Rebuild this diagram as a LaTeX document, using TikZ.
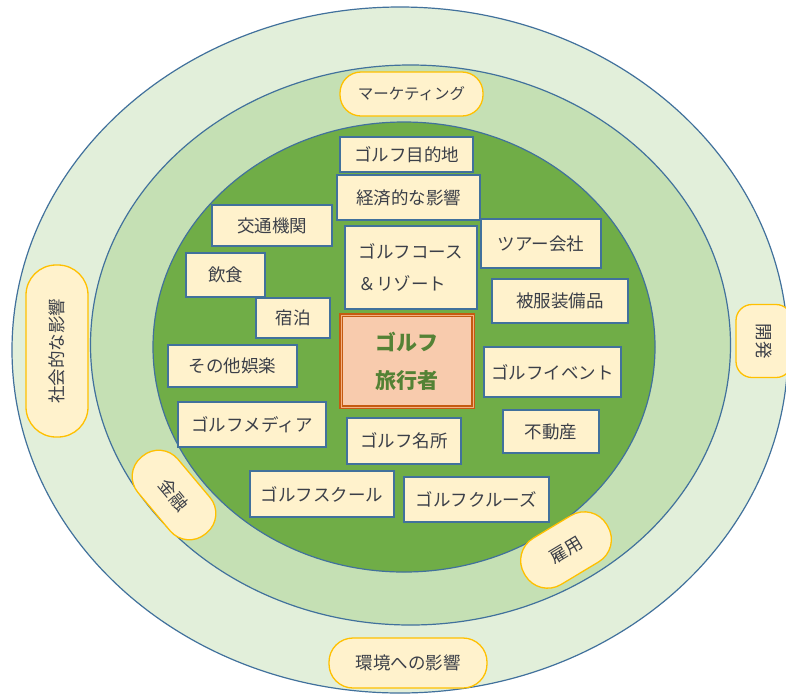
\documentclass[tikz,border=0pt]{standalone}
\usepackage{fontspec}
\setmainfont{Noto Sans CJK JP}
\newfontfamily\jp{Noto Sans CJK JP}
\begin{document}
\begin{tikzpicture}[x=1pt,y=-1pt,
  ringline/.style={draw=ringblue,line width=1.2pt},
  box/.style={draw=boxblue,line width=1.2pt,fill=cream,inner sep=0pt,
    font=\jp\fontsize{17.5}{21}\selectfont,text=txtgray},
  pill/.style={draw=gold,line width=1.3pt,fill=cream,inner sep=0pt,
    font=\jp\fontsize{17.5}{21}\selectfont,text=txtgray},
  core/.style={draw=coreorange,double=corelight,double distance=0.9pt,line width=1.1pt,
    fill=corefill,inner sep=0pt,align=center,
    font=\jp\bfseries\fontsize{21}{38}\selectfont,text=coregreen}]
\definecolor{ringblue}{HTML}{41719C}
\definecolor{boxblue}{HTML}{41719C}
\definecolor{cream}{HTML}{FFF2CC}
\definecolor{gold}{HTML}{FFC000}
\definecolor{txtgray}{HTML}{3B3F48}
\definecolor{outerfill}{HTML}{E2EFDA}
\definecolor{midfill}{HTML}{C5E0B4}
\definecolor{innerfill}{HTML}{70AD47}
\definecolor{coreorange}{HTML}{C55A11}
\definecolor{corelight}{HTML}{F4B183}
\definecolor{corefill}{HTML}{F8CBAD}
\definecolor{coregreen}{HTML}{548235}
\useasboundingbox (0,0) rectangle (786,697);
\clip (0,0) rectangle (786,697);
\fill[white] (0,0) rectangle (786,697);
% rings
\path[ringline,fill=outerfill] (400,350) ellipse [x radius=388pt, y radius=343pt];
\path[ringline,fill=midfill] (410.5,345) ellipse [x radius=320pt, y radius=280pt];
\path[ringline,fill=innerfill] (404,347) ellipse [x radius=251pt, y radius=225pt];
% boxes
\node[box,minimum width=133pt,minimum height=35pt] (goal) at (406.5,154.5) {ゴルフ目的地};
\node[box,minimum width=143pt,minimum height=45pt] (econ) at (408.5,197.5) {経済的な影響};
\node[box,minimum width=120pt,minimum height=41pt] (kotsu) at (272,225.5) {交通機関};
\node[box,minimum width=120pt,minimum height=49pt] (tour) at (541,243.5) {ツアー会社};
\node[box,minimum width=132pt,minimum height=83pt,align=left,
  font=\jp\fontsize{17.5}{32}\selectfont] (course) at (411,267.5) {ゴルフコース\\＆リゾート};
\node[box,minimum width=79pt,minimum height=44pt] (inshoku) at (225.5,275) {飲食};
\node[box,minimum width=74pt,minimum height=40pt] (shukuhaku) at (293,318) {宿泊};
\node[box,minimum width=136pt,minimum height=44pt] (hifuku) at (560,301) {被服装備品};
\node[core,minimum width=132pt,minimum height=92pt] (core) at (407,361) {ゴルフ\\旅行者};
\node[box,minimum width=129pt,minimum height=42pt] (sonota) at (232.5,366) {その他娯楽};
\node[box,minimum width=137pt,minimum height=50pt] (event) at (552.5,372) {ゴルフイベント};
\node[box,minimum width=148pt,minimum height=45pt] (media) at (252,424.5) {ゴルフメディア};
\node[box,minimum width=114pt,minimum height=46pt] (meisho) at (404,441) {ゴルフ名所};
\node[box,minimum width=96pt,minimum height=43pt] (fudosan) at (551,431.5) {不動産};
\node[box,minimum width=144pt,minimum height=46pt] (school) at (322,494) {ゴルフスクール};
\node[box,minimum width=145pt,minimum height=45pt] (cruise) at (476.5,499.5) {ゴルフクルーズ};
% pills
\node[pill,minimum width=143pt,minimum height=44pt,rounded corners=21pt,
  font=\jp\fontsize{15.5}{20}\selectfont] (marketing) at (411.5,94) {マーケティング};
\node[pill,minimum width=172pt,minimum height=62pt,rounded corners=30pt,rotate=90] (shakai) at (57,351) {社会的な影響};
\node[pill,minimum width=73pt,minimum height=56pt,rounded corners=16pt,rotate=-90] (kaihatsu) at (764,341) {開発};
\node[pill,minimum width=100pt,minimum height=52pt,rounded corners=25pt,rotate=-50] (kinyu) at (174,495) {金融};
\node[pill,minimum width=96pt,minimum height=54pt,rounded corners=26pt,rotate=31] (koyo) at (566,550) {雇用};
\node[pill,minimum width=158pt,minimum height=50pt,rounded corners=24pt] (kankyo) at (408,663) {環境への影響};
\end{tikzpicture}
\end{document}
